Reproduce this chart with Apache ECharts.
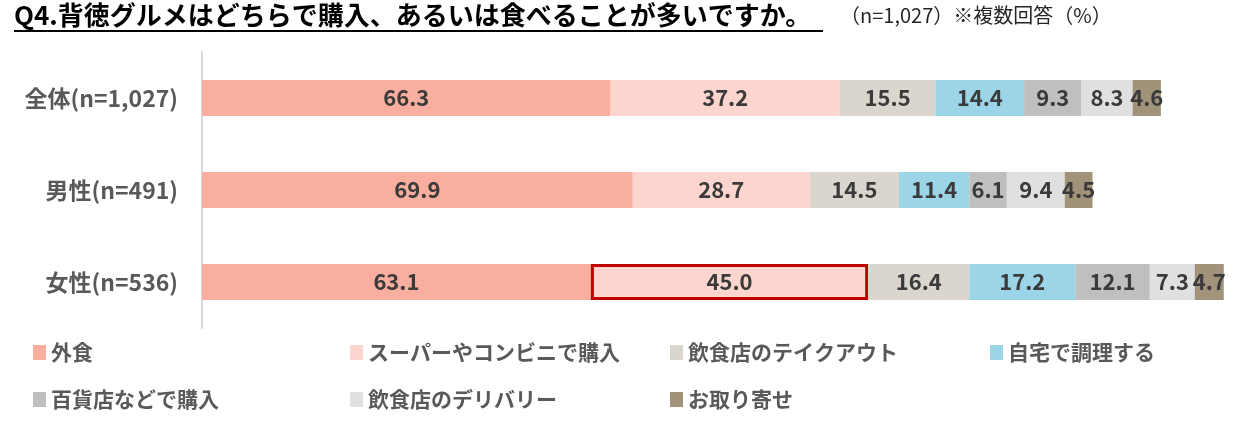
<!DOCTYPE html>
<html>
<head>
<meta charset="utf-8">
<script src="https://cdn.jsdelivr.net/npm/echarts@6/dist/echarts.min.js"></script>
<style>
  html, body { margin: 0; padding: 0; background: #fff; }
  #main { width: 1234px; height: 421px; }
</style>
</head>
<body>
<div id="main"></div>
<script>
// カテゴリ（上から順）
const categories = ['全体(n=1,027)', '男性(n=491)', '女性(n=536)'];
// 系列名
const seriesNames = ['外食', 'スーパーやコンビニで購入', '飲食店のテイクアウト', '自宅で調理する',
    '百貨店などで購入', '飲食店のデリバリー', 'お取り寄せ'];
// 各系列の値 (%)
const eatOut = [66.3, 69.9, 63.1];
const superConv = [37.2, 28.7, 45.0];
const takeout = [15.5, 14.5, 16.4];
const homeCook = [14.4, 11.4, 17.2];
const deptStore = [9.3, 6.1, 12.1];
const delivery = [8.3, 9.4, 7.3];
const mailOrder = [4.6, 4.5, 4.7];
const seriesValues = [eatOut, superConv, takeout, homeCook, deptStore, delivery, mailOrder];
const colors = ['#FAAE9F', '#FDD5CF', '#DAD6CE', '#9DD5E8', '#BFBFBF', '#E0E0E0', '#A0937A'];
// 赤枠で囲む箇所 [系列, カテゴリ]
const boxed = [1, 2];

const font = '"Noto Sans CJK JP", "Noto Sans", sans-serif';

let series = seriesNames.map(function (name, i) {
    return {
        name: name,
        type: 'bar',
        stack: 'total',
        barWidth: 36,
        itemStyle: { color: colors[i] },
        label: {
            show: true,
            position: 'inside',
            color: '#3A3A3A',
            fontFamily: font,
            fontWeight: 'bold',
            fontSize: 22,
            formatter: function (p) { return p.value.toFixed(1); }
        },
        data: seriesValues[i].map(function (v, j) {
            if (i === boxed[0] && j === boxed[1]) {
                return { value: v, itemStyle: { borderColor: '#C00000', borderWidth: 3 } };
            }
            return v;
        })
    };
});

// 凡例は4列×2行、1項目ずつ配置
const legendCols = [28, 345, 665, 985];
const legendRows = [337, 384];
let legends = seriesNames.map(function (name, i) {
    return {
        left: legendCols[i % 4],
        top: legendRows[Math.floor(i / 4)],
        itemWidth: 13,
        itemHeight: 15,
        icon: 'rect',
        textStyle: { color: '#595959', fontFamily: font, fontWeight: 'bold', fontSize: 21 },
        data: [name]
    };
});

let option = {
    animation: false,
    color: colors,
    grid: { left: 202, right: 9, top: 52, bottom: 93, containLabel: false },
    legend: legends,
    xAxis: {
        type: 'value',
        min: 0,
        max: 166,
        show: false
    },
    yAxis: {
        type: 'category',
        inverse: true,
        data: categories,
        axisLine: { show: true, lineStyle: { color: '#D9D9D9', width: 2 } },
        axisTick: { show: false },
        axisLabel: {
            margin: 24,
            color: '#595959',
            fontFamily: font,
            fontWeight: 'bold',
            fontSize: 23
        }
    },
    graphic: [
        {
            type: 'text',
            left: 14,
            top: 2,
            style: {
                text: 'Q4.背徳グルメはどちらで購入、あるいは食べることが多いですか。',
                fill: '#000',
                font: 'bold 26px ' + font
            }
        },
        {
            type: 'line',
            shape: { x1: 14, y1: 31, x2: 823, y2: 31 },
            style: { stroke: '#000', lineWidth: 2 }
        },
        {
            type: 'text',
            left: 840,
            top: 5,
            style: {
                text: '（n=1,027）※複数回答（%）',
                fill: '#262626',
                font: '20px ' + font
            }
        }
    ],
    series: series
};

echarts.init(document.getElementById('main')).setOption(option);
</script>
</body>
</html>
